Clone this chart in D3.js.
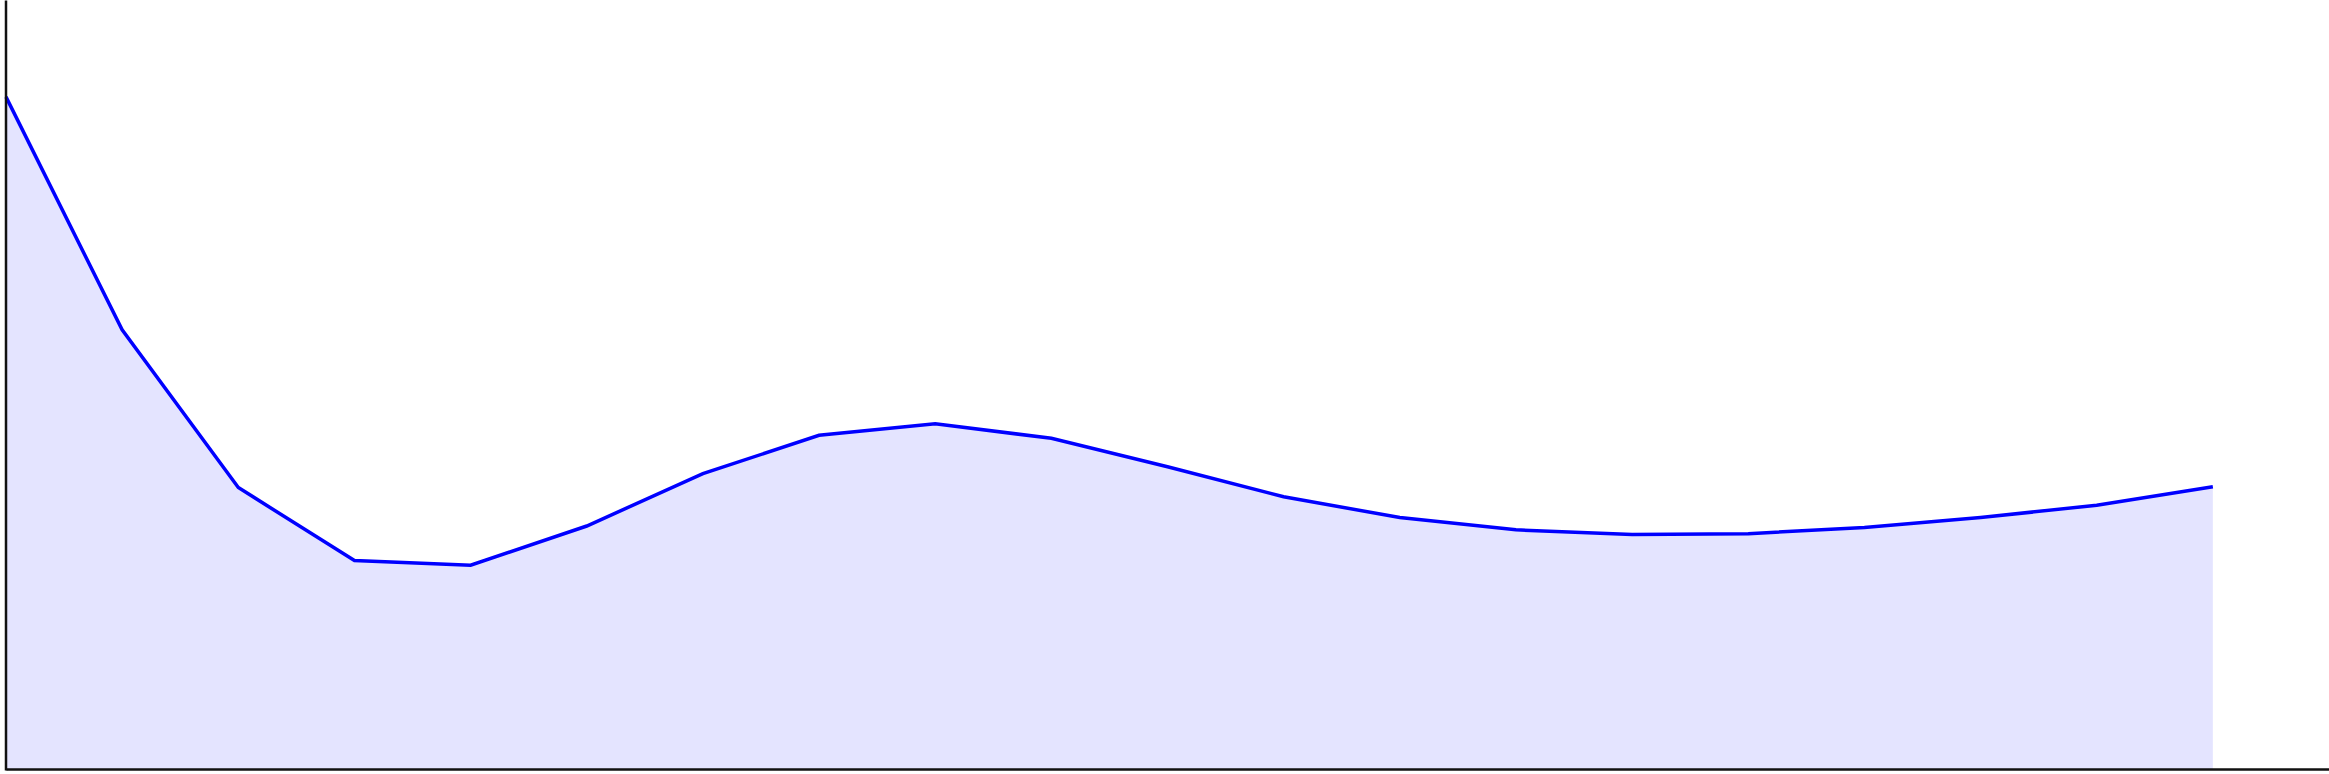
<!DOCTYPE html>
<html>
<head>
<meta charset="utf-8">
<script src="https://cdn.jsdelivr.net/npm/d3@7"></script>
<style>
  html, body { margin: 0; padding: 0; background: #ffffff; overflow: hidden; }
  svg { display: block; }
</style>
</head>
<body>
<svg id="chart" width="2329" height="774"></svg>
<script>
// Data (x = index 0..19, y = value on a 0-100 scale)
const categories = d3.range(0, 20);
const values = [87.4, 57.1, 36.6, 27.1, 26.5, 31.6, 38.4, 43.4, 44.9, 43.0,
                39.3, 35.4, 32.7, 31.1, 30.5, 30.6, 31.4, 32.7, 34.3, 36.7];
const xDomain = [0, 20];
const yDomain = [0, 100];

const W = 2329, H = 774;
const svg = d3.select("#chart");

const x = d3.scaleLinear().domain(xDomain).range([6, W]);
const y = d3.scaleLinear().domain(yDomain).range([769, 0]);

const data = categories.map((c, i) => ({ c, v: values[i] }));

const area = d3.area()
  .x(d => x(d.c))
  .y0(y(0))
  .y1(d => y(d.v));

const line = d3.line()
  .x(d => x(d.c))
  .y(d => y(d.v));

svg.append("path")
  .datum(data)
  .attr("d", area)
  .attr("fill", "#e4e4ff")
  .attr("stroke", "none");

svg.append("path")
  .datum(data)
  .attr("d", line)
  .attr("fill", "none")
  .attr("stroke", "#0000ff")
  .attr("stroke-width", 3.5);

// Axes (no ticks, just the domain lines)
const xAxis = svg.append("g")
  .attr("transform", `translate(0,${y(0)})`)
  .call(d3.axisBottom(x).tickValues([]).tickSizeOuter(0));
xAxis.select(".domain").attr("stroke", "#111").attr("stroke-width", 2.5);

const yAxis = svg.append("g")
  .attr("transform", `translate(5.5,0)`)
  .call(d3.axisLeft(d3.scaleLinear().domain(yDomain).range([770, 0])).tickValues([]).tickSizeOuter(0));
yAxis.select(".domain").attr("stroke", "#111").attr("stroke-width", 2.5);
</script>
</body>
</html>
